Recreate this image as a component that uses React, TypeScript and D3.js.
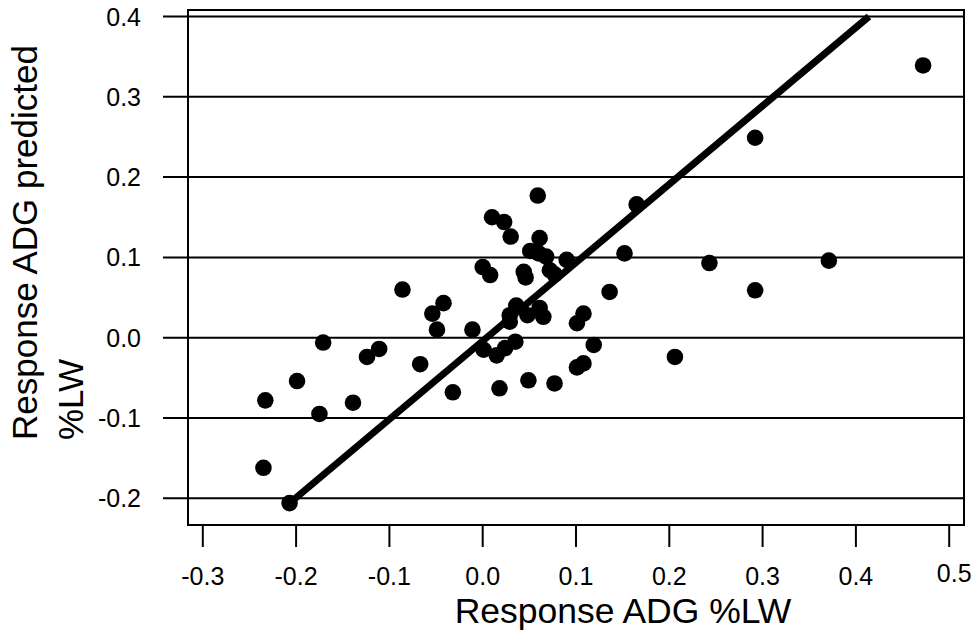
import React from "react";
import * as d3 from "d3";

const xTicks = [-0.3, -0.2, -0.1, 0.0, 0.1, 0.2, 0.3, 0.4, 0.5];
const yTicks = [-0.2, -0.1, 0.0, 0.1, 0.2, 0.3, 0.4];

const observed = [
  0.472, 0.292, 0.165, 0.152, 0.243, 0.371, 0.292, 0.206, 0.136, 0.108,
  0.101, 0.119, 0.108, 0.101, 0.077, 0.049, 0.018, -0.032, 0.059, 0.010,
  0.023, 0.030, 0.061, 0.051, 0.060, 0.068, 0.090, 0.072, 0.077, 0.000,
  0.008, 0.044, 0.046, 0.036, 0.029, 0.029, 0.048, 0.061, 0.065, -0.011,
  0.035, 0.024, 0.015, 0.001, -0.086, -0.054, -0.042, -0.049, -0.171, -0.124,
  -0.111, -0.067, -0.199, -0.233, -0.139, -0.175, -0.235, -0.207,
];
const predicted = [
  0.339, 0.249, 0.166, 0.105, 0.093, 0.096, 0.059, -0.024, 0.057, 0.030,
  0.018, -0.009, -0.032, -0.037, -0.057, -0.053, -0.063, -0.068, 0.177, 0.150,
  0.144, 0.126, 0.124, 0.108, 0.105, 0.101, 0.097, 0.084, 0.079, 0.088,
  0.078, 0.082, 0.075, 0.040, 0.028, 0.020, 0.028, 0.037, 0.026, 0.010,
  -0.005, -0.013, -0.022, -0.015, 0.060, 0.030, 0.043, 0.010, -0.006, -0.024,
  -0.014, -0.033, -0.054, -0.078, -0.081, -0.095, -0.162, -0.206,
];
const lineX = [-0.207, 0.414];
const lineY = [-0.206, 0.4];

const xLabel = "Response ADG %LW";
const yLabelLines = ["Response ADG predicted", "%LW"];

const FONT = "'Liberation Sans', Arial, sans-serif";

export default function App() {
  const box = { left: 188, right: 964, top: 10, bottom: 525 };
  const x = d3.scaleLinear().domain([-0.3, 0.5]).range([202.8, 949.2]);
  const y = d3.scaleLinear().domain([-0.2, 0.4]).range([498.3, 16.5]);
  const fmt = (v: number) => d3.format(".1f")(v).replace("\u2212", "-");
  const line = d3
    .line<[number, number]>()
    .x((d) => x(d[0]))
    .y((d) => y(d[1]));
  const linePts: [number, number][] = lineX.map((v, i) => [v, lineY[i]]);
  const pts = observed.map((v, i) => [v, predicted[i]]);

  return (
    <svg
      width={974}
      height={631}
      style={{ position: "absolute", left: 0, top: 0, background: "#fff" }}
      fontFamily={FONT}
    >
      <rect x={0} y={0} width={974} height={631} fill="#fff" />
      {yTicks.map((t) => (
        <g key={"y" + t}>
          <line x1={163} x2={box.right} y1={y(t)} y2={y(t)} stroke="#000" strokeWidth={2} />
          <text x={141} y={y(t)} dy="0.36em" textAnchor="end" fontSize={25} fill="#000">
            {fmt(t)}
          </text>
        </g>
      ))}
      {xTicks.map((t) => (
        <g key={"x" + t}>
          <line x1={x(t)} x2={x(t)} y1={box.bottom} y2={547} stroke="#000" strokeWidth={2} />
          <text x={x(t) + (t === 0.5 ? 5 : 0)} y={t === 0.5 ? 582 : 585} textAnchor="middle" fontSize={25} fill="#000">
            {fmt(t)}
          </text>
        </g>
      ))}
      <rect
        x={box.left}
        y={box.top}
        width={box.right - box.left}
        height={box.bottom - box.top}
        fill="none"
        stroke="#000"
        strokeWidth={2}
      />
      {pts.map((p, i) => (
        <circle key={i} cx={x(p[0])} cy={y(p[1])} r={8.3} fill="#000" />
      ))}
      <path d={line(linePts) || ""} stroke="#000" strokeWidth={7} fill="none" />
      <text x={623} y={623} textAnchor="middle" fontSize={35.5} fill="#000">
        {xLabel}
      </text>
      <text transform="translate(37,440) rotate(-90)" fontSize={35} fill="#000">
        {yLabelLines[0]}
      </text>
      <text transform="translate(83,440) rotate(-90)" fontSize={35} fill="#000">
        {yLabelLines[1]}
      </text>
    </svg>
  );
}
